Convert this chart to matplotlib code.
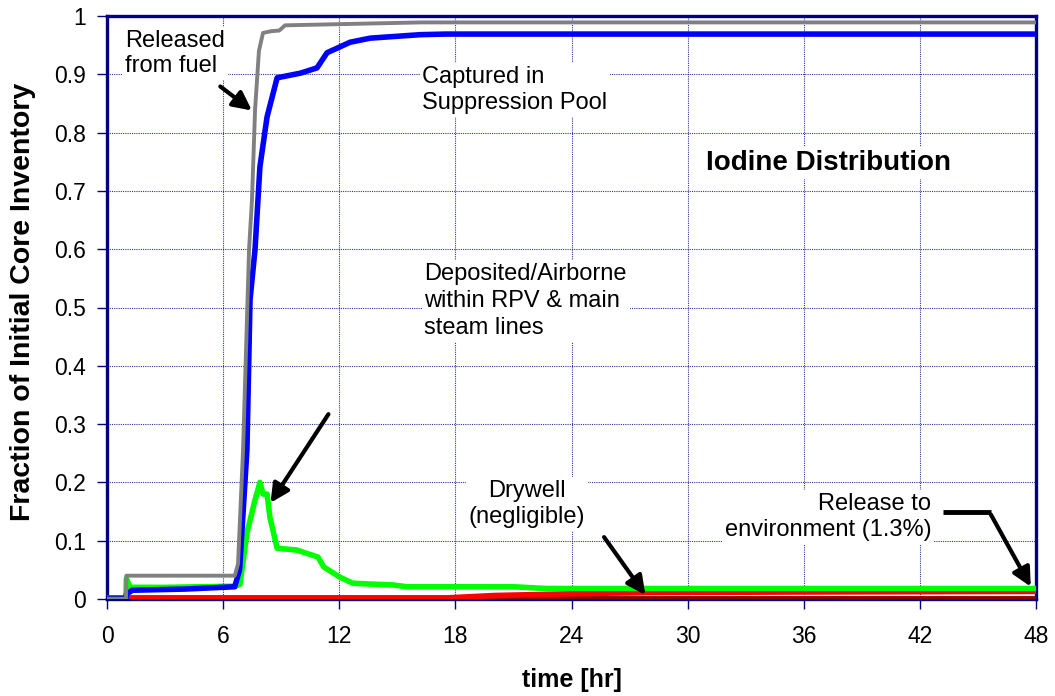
import numpy as np
import matplotlib.pyplot as plt

plt.rcParams['font.family'] = ['Liberation Sans', 'DejaVu Sans']

# time [hr] and fraction of initial core inventory
t_fuel = [0, 0.98, 1.0, 6.6, 6.77, 7.03, 7.34, 7.49, 7.65, 7.85, 8.06, 8.5, 8.9, 9.2, 12, 16.2, 17, 48]
fuel = [0, 0, 0.040, 0.040, 0.06, 0.256, 0.60, 0.684, 0.839, 0.94, 0.971, 0.974, 0.975, 0.984, 0.986, 0.989, 0.989, 0.989]

t_pool = [0, 0.98, 1.0, 1.3, 4.0, 6.6, 6.85, 7.23, 7.39, 7.65, 7.9, 8.27, 8.79, 10.0, 10.85, 11.37, 12.56, 13.6, 16.2, 17.5, 48]
pool = [0, 0, 0.008, 0.015, 0.017, 0.021, 0.05, 0.256, 0.513, 0.60, 0.741, 0.827, 0.894, 0.902, 0.911, 0.937, 0.955, 0.962, 0.968, 0.969, 0.969]

t_rpv = [0, 0.98, 1.0, 1.2, 3.0, 6.6, 6.87, 7.23, 7.65, 7.9, 8.06, 8.27, 8.42, 8.79, 9.8, 10.9, 11.2, 12.0, 12.7, 14.8, 15.5, 21.0, 22.7, 30, 48]
rpv = [0, 0, 0.035, 0.02, 0.02, 0.022, 0.025, 0.113, 0.17, 0.2, 0.18, 0.18, 0.14, 0.087, 0.084, 0.072, 0.055, 0.038, 0.027, 0.024, 0.021, 0.021, 0.018, 0.018, 0.018]

t_env = [0, 17.6, 20, 24, 28, 36, 48]
env = [0.002, 0.002, 0.006, 0.009, 0.011, 0.012, 0.013]

t_dw = [0, 48]
drywell = [0.002, 0.002]

x_ticks = np.arange(0, 49, 6)
y_ticks = np.round(np.arange(0, 1.01, 0.1), 1)
y_tick_labels = ['0'] + [f'{v:.1f}' for v in y_ticks[1:-1]] + ['1']

fig = plt.figure(figsize=(10.55, 6.96), dpi=100)
ax = fig.add_axes([107 / 1055, 1 - 599 / 696, (1036 - 107) / 1055, (599 - 16) / 696])

navy = '#000080'
ax.plot(t_dw, drywell, color='#8b0000', lw=3.5, zorder=3)
ax.plot(t_env, env, color='#ff0000', lw=4, zorder=4)
ax.plot(t_rpv, rpv, color='#00ff00', lw=4, zorder=5)
ax.plot(t_pool, pool, color='#0000ff', lw=4, zorder=6)
ax.plot(t_fuel, fuel, color='#808080', lw=2.8, zorder=7)

ax.set_xlim(0, 48)
ax.set_ylim(0, 1)
ax.set_xticks(x_ticks)
ax.set_yticks(y_ticks)
ax.set_yticklabels(y_tick_labels)
ax.tick_params(labelsize=16.5, color=navy, length=7, width=1, direction='out')
ax.tick_params(axis='x', pad=12)
ax.tick_params(axis='y', pad=8)
ax.grid(True, color=navy, linestyle=(0, (1, 1)), linewidth=0.8, alpha=0.8)
for s in ax.spines.values():
    s.set_color(navy)
    s.set_linewidth(2.4)

ax.set_xlabel('time [hr]', fontsize=18, fontweight='bold', labelpad=14)
fig.text(23 / 1055, 1 - 302 / 696, 'Fraction of Initial Core Inventory', fontsize=20.5, fontweight='bold',
         rotation=90, ha='center', va='center')

box = dict(facecolor='white', edgecolor='none', pad=2)
fs = 17
arrow = dict(arrowstyle='-|>', color='black', lw=3, mutation_scale=28)

ax.text(0.95, 0.976, 'Released\nfrom fuel', fontsize=fs, va='top', ha='left', bbox=box, zorder=8, linespacing=1.2)
ax.annotate('', xy=(7.6, 0.835), xytext=(5.74, 0.882), arrowprops=arrow, zorder=9)

ax.text(16.3, 0.914, 'Captured in\nSuppression Pool', fontsize=fs, va='top', ha='left', bbox=box, zorder=8,
        linespacing=1.23)

ax.text(37.3, 0.748, 'Iodine Distribution', fontsize=20, fontweight='bold', va='center', ha='center',
        bbox=box, zorder=8)

ax.text(16.4, 0.576, 'Deposited/Airborne\nwithin RPV & main\nsteam lines', fontsize=fs, va='top', ha='left',
        bbox=box, zorder=8, linespacing=1.3)
ax.annotate('', xy=(8.37, 0.161), xytext=(11.52, 0.321), arrowprops=arrow, zorder=9)

ax.text(21.7, 0.204, 'Drywell\n(negligible)', fontsize=fs, va='top', ha='center', bbox=box, zorder=8,
        linespacing=1.23)
ax.annotate('', xy=(27.9, 0.003), xytext=(25.6, 0.110), arrowprops=arrow, zorder=9)

ax.text(42.6, 0.182, 'Release to\nenvironment (1.3%)', fontsize=fs, va='top', ha='right', bbox=box, zorder=8,
        linespacing=1.27, multialignment='right')
ax.plot([43.2, 45.7], [0.149, 0.149], color='black', lw=3.5, zorder=9, solid_capstyle='butt')
ax.annotate('', xy=(47.8, 0.017), xytext=(45.6, 0.149), arrowprops=arrow, zorder=9)

fig.savefig('out.png', dpi=100)
